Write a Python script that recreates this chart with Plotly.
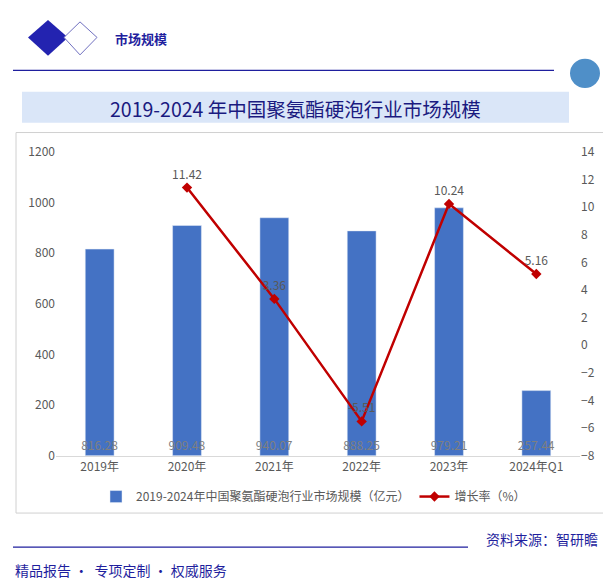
import plotly.graph_objects as go

categories = ["2019年", "2020年", "2021年", "2022年", "2023年", "2024年Q1"]
market_size = [816.28, 909.48, 940.07, 888.25, 979.21, 257.44]
growth = [None, 11.42, 3.36, -5.51, 10.24, 5.16]
growth_labels = ["", "11.42", "3.36", "-5.51", "10.24", "5.16"]

W, H = 611, 580
def px(x): return x / W
def py(y): return 1 - y / H

fig = go.Figure()
fig.add_trace(go.Bar(x=categories, y=market_size, name="2019-2024年中国聚氨酯硬泡行业市场规模（亿元）",
    marker_color="#4472c4", text=[f"{v:.2f}" for v in market_size], textposition="inside", textangle=0,
    insidetextanchor="start", textfont=dict(color="#7f7f7f", size=12), texttemplate="%{text}",
    constraintext="none"))
fig.add_trace(go.Scatter(x=categories, y=growth, name="增长率（%）", yaxis="y2", mode="lines+markers+text",
    line=dict(color="#c00000", width=2.5), marker=dict(symbol="diamond", size=8, color="#c00000"),
    text=growth_labels, textposition="top center", textfont=dict(color="#595959", size=12)))

fig.update_layout(
    width=W, height=H, margin=dict(l=0, r=0, t=0, b=0), plot_bgcolor="white", paper_bgcolor="white",
    font=dict(family="Noto Sans CJK SC", color="#595959", size=12),
    bargap=0.67, showlegend=True, uniformtext=dict(mode=False),
    legend=dict(orientation="h", x=0.5, xanchor="center", y=py(493), yanchor="middle", font=dict(size=12)),
    xaxis=dict(domain=[px(48), px(572)], showline=True, linecolor="#d9d9d9", ticks="", tickfont=dict(size=12)),
    yaxis=dict(domain=[py(451), py(138)], range=[0, 1200], dtick=200, showgrid=False, zeroline=False,
               tickfont=dict(size=12)),
    yaxis2=dict(overlaying="y", side="right", range=[-8, 14], dtick=2, showgrid=False, zeroline=False,
                tickfont=dict(size=12)),
)

navy = "#1f1f9e"
shapes = [
    dict(type="path", path=f"M {px(20)} {py(20)} L {px(40)} {py(2)} L {px(60)} {py(20)} L {px(40)} {py(39)} Z",
         fillcolor="#2323b0", line=dict(width=0)),
    dict(type="path", path=f"M {px(56)} {py(20)} L {px(72)} {py(4)} L {px(89)} {py(20)} L {px(72)} {py(38)} Z",
         fillcolor="white", line=dict(color="#7070c0", width=1)),
    dict(type="line", x0=px(5), x1=px(546), y0=py(54), y1=py(54), line=dict(color=navy, width=1.2)),
    dict(type="circle", x0=px(562), x1=px(592), y0=py(42), y1=py(72), fillcolor="#4f8fc8", line=dict(width=0)),
    dict(type="rect", x0=px(14), x1=px(561), y0=py(76), y1=py(108), fillcolor="#dae6f8", line=dict(width=0), layer="below"),
    dict(type="rect", x0=px(8), x1=px(605), y0=py(118), y1=py(510), line=dict(color="#d0d0d0", width=1)),
    dict(type="line", x0=px(5), x1=px(460), y0=py(545), y1=py(545), line=dict(color=navy, width=1.2)),
]
for s in shapes:
    s.update(xref="paper", yref="paper")
fig.update_layout(shapes=shapes)
ann = [
    dict(text="<b>市场规模</b>", x=px(105), y=py(21), xanchor="left", font=dict(size=13, color=navy)),
    dict(text="2019-2024 年中国聚氨酯硬泡行业市场规模", x=px(287), y=py(93), xanchor="center",
         font=dict(size=19.5, color="#1a1a80")),
    dict(text="资料来源：智研瞻", x=px(592), y=py(537), xanchor="right", font=dict(size=14, color=navy)),
    dict(text="精品报告 •  专项定制 • 权威服务", x=px(5), y=py(569), xanchor="left", font=dict(size=14, color=navy)),
]
for a in ann:
    a.update(xref="paper", yref="paper", showarrow=False, yanchor="middle")
fig.update_layout(annotations=ann)
fig.write_html("out.html")
